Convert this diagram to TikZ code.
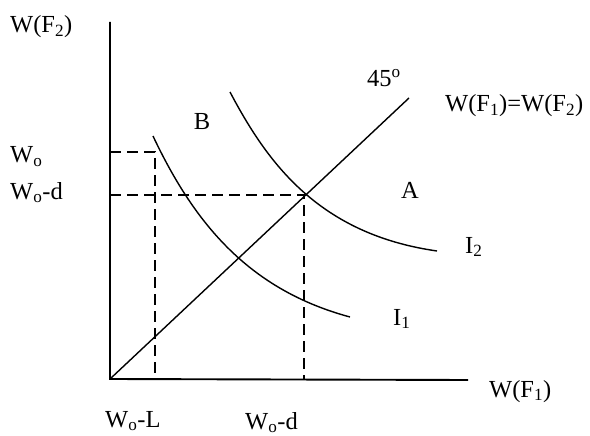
\documentclass[tikz,border=0pt]{standalone}
\usepackage{fontspec}
\setmainfont{Liberation Serif}
\begin{document}
\begin{tikzpicture}[x=1pt,y=-1pt,
  lbl/.style={inner sep=0pt,font=\fontsize{24.5}{27}\selectfont},
  axisline/.style={line width=1.9pt},
  curve/.style={line width=1.4pt},
  guide/.style={line width=1.5pt,dash pattern=on 11pt off 6pt}]
\useasboundingbox (0,0) rectangle (590,436);
% axes
\coordinate (O) at (110,379);
\coordinate (yT) at (110,22);
\coordinate (xR) at (468,380);
\draw[axisline] (yT) -- (O) -- (xR);
% 45 degree line
\coordinate (L45) at (409,98);
\draw[curve] (O) -- (L45);
% guide lines
\coordinate (w0y) at (110,152);
\coordinate (w0c) at (155,152);
\coordinate (w0x) at (155,379);
\coordinate (wdy) at (110,195);
\coordinate (wdc) at (304,195);
\coordinate (wdx) at (304,379);
\draw[guide] (w0y) -- (w0c) -- (w0x);
\draw[guide] (wdy) -- (wdc) -- (wdx);
% indifference curves
\coordinate (i1s) at (153,136);
\coordinate (i1e) at (350,317);
\coordinate (i2s) at (230,92);
\coordinate (i2e) at (437,251);
\draw[curve] (i1s) .. controls (195,225) and (250,290) .. (i1e);
\draw[curve] (i2s) .. controls (267,162) and (318,234) .. (i2e);
% labels
\node[lbl,anchor=base west] (tF2) at (10,33) {W(F\textsubscript{2})};
\node[lbl,anchor=base west] (tW0) at (10,163) {W\textsubscript{o}};
\node[lbl,anchor=base west] (tW0d) at (10,199) {W\textsubscript{o}-d};
\node[lbl,anchor=base] (tB) at (202,130) {B};
\node[lbl,anchor=base west] (t45) at (367,87) {45\textsuperscript{o}};
\node[lbl,anchor=base west] (tEq) at (445,112) {W(F\textsubscript{1})=W(F\textsubscript{2})};
\node[lbl,anchor=base] (tA) at (410,198) {A};
\node[lbl,anchor=base west] (tI2) at (465,253) {I\textsubscript{2}};
\node[lbl,anchor=base west] (tI1) at (393,325) {I\textsubscript{1}};
\node[lbl,anchor=base west] (tF1) at (489,397) {W(F\textsubscript{1})};
\node[lbl,anchor=base west] (tW0L) at (105,427) {W\textsubscript{o}-L};
\node[lbl,anchor=base west] (tW0d2) at (245,429) {W\textsubscript{o}-d};
\end{tikzpicture}
\end{document}
